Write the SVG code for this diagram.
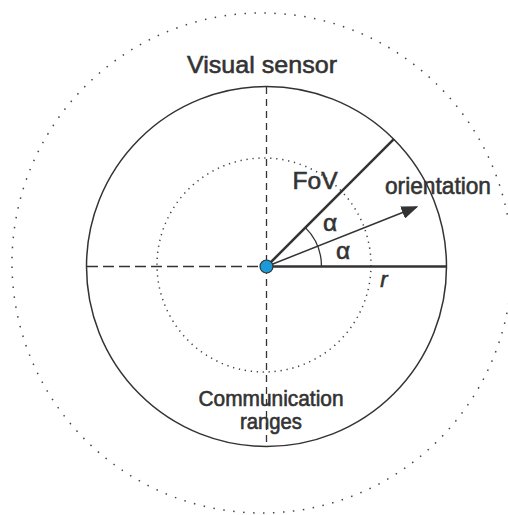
<svg xmlns="http://www.w3.org/2000/svg" width="508" height="515" viewBox="0 0 508 515">
<style>
.t{font-family:"Liberation Sans",Arial,sans-serif;fill:#333;stroke:#333;stroke-width:0.6;}
.ln{stroke:#333;fill:none;}
.dot{stroke:#444;fill:none;stroke-width:1.5;stroke-linecap:butt;}
</style>
<defs>
<marker id="ah" markerWidth="17" markerHeight="13" refX="15" refY="6.5" orient="auto" markerUnits="userSpaceOnUse">
<path d="M0,0 L17,6.5 L0,13 Z" fill="#333"/>
</marker>
</defs>
<rect width="508" height="515" fill="#fff"/>
<g id="ranges">
<circle cx="262" cy="263" r="250" class="dot" stroke-dasharray="1.5 8.5"/>
<circle cx="264" cy="265" r="107" class="dot" stroke-dasharray="1.3 4.7"/>
</g>
<g id="sensor">
<circle cx="266.5" cy="266.5" r="180" class="ln" stroke-width="1.5"/>
</g>
<g id="connectors">
<line x1="266.5" y1="87" x2="266.5" y2="446" class="ln" stroke-width="1.3" stroke-dasharray="7 5"/>
<line x1="87" y1="266.5" x2="266.5" y2="266.5" class="ln" stroke-width="1.3" stroke-dasharray="11 5"/>
<line x1="266.5" y1="266.5" x2="446.5" y2="266.5" class="ln" stroke-width="2.5"/>
<line x1="266.5" y1="266.5" x2="393.8" y2="139.2" class="ln" stroke-width="2.5"/>
<line x1="266.5" y1="266.5" x2="416.5" y2="207" class="ln" stroke-width="1.5" marker-end="url(#ah)"/>
<path d="M321.5,266.5 A55,55 0 0 0 305.4,227.6" class="ln" stroke-width="1.3"/>
</g>
<g id="node">
<circle cx="266.5" cy="266.5" r="6.5" fill="#1a9ad8" stroke="#333" stroke-width="1.2"/>
</g>
<g id="labels">
<text class="t" x="262" y="73" font-size="24.5" text-anchor="middle" textLength="150" lengthAdjust="spacingAndGlyphs">Visual sensor</text>
<text class="t" x="315" y="189" font-size="24.5" text-anchor="middle" textLength="45" lengthAdjust="spacingAndGlyphs">FoV</text>
<text class="t" x="438" y="194" font-size="24.5" text-anchor="middle" textLength="106" lengthAdjust="spacingAndGlyphs">orientation</text>
<text class="t" x="330" y="231" font-size="24.5" text-anchor="middle">α</text>
<text class="t" x="343" y="259" font-size="24.5" text-anchor="middle">α</text>
<text class="t" x="384" y="287" font-size="22" font-style="italic" text-anchor="middle">r</text>
<text class="t" x="271" y="406" font-size="21.5" text-anchor="middle" textLength="145" lengthAdjust="spacingAndGlyphs">Communication</text>
<text class="t" x="271" y="429" font-size="21.5" text-anchor="middle" textLength="62" lengthAdjust="spacingAndGlyphs">ranges</text>
</g>
</svg>
